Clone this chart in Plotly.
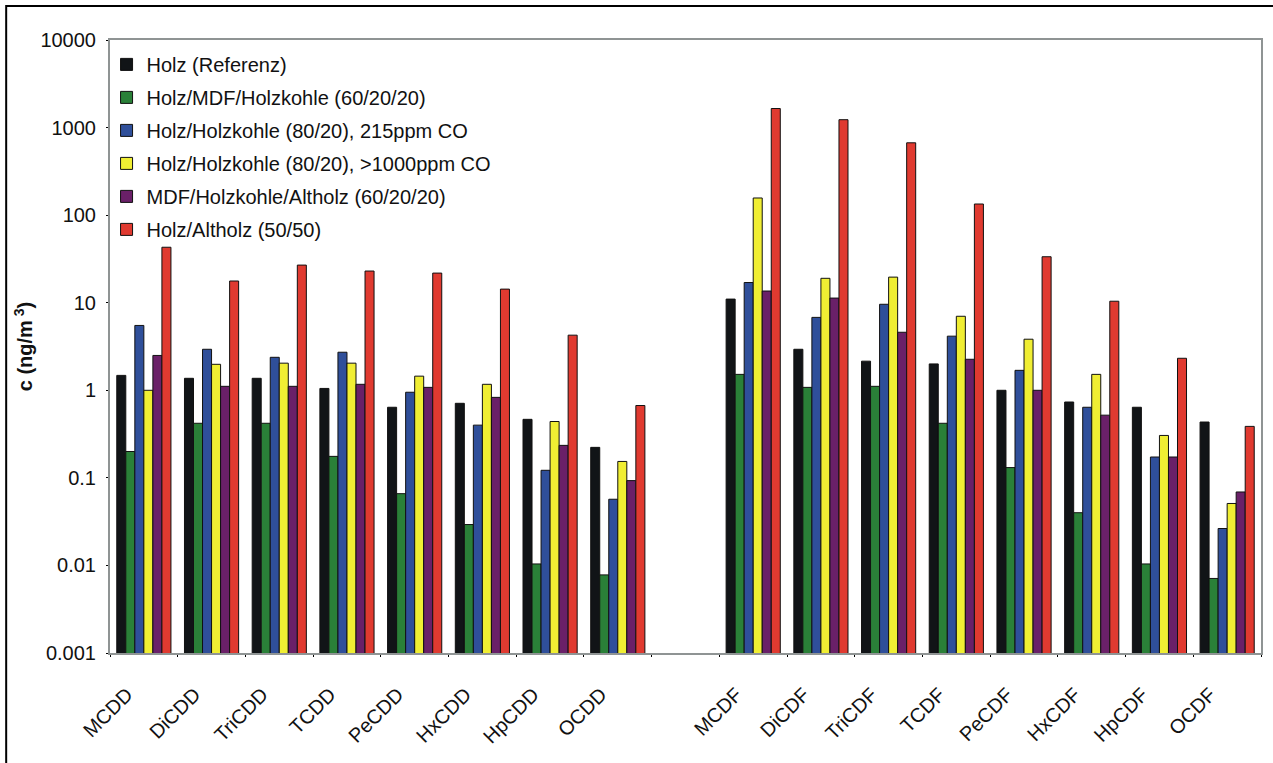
import plotly.graph_objects as go

# categories (blank slot separates the dioxins from the furans)
categories = ["MCDD", "DiCDD", "TriCDD", "TCDD", "PeCDD", "HxCDD", "HpCDD", "OCDD", " ",
              "MCDF", "DiCDF", "TriCDF", "TCDF", "PeCDF", "HxCDF", "HpCDF", "OCDF"]

holz_ref = [1.48, 1.37, 1.37, 1.05, 0.64, 0.71, 0.466, 0.223, None,
            11.0, 2.94, 2.15, 2.0, 1.0, 0.735, 0.64, 0.434]
holz_mdf_hk = [0.2, 0.42, 0.42, 0.176, 0.066, 0.0293, 0.0104, 0.0078, None,
               1.52, 1.08, 1.11, 0.42, 0.131, 0.040, 0.0104, 0.0071]
holz_hk_215 = [5.5, 2.94, 2.38, 2.72, 0.95, 0.40, 0.122, 0.057, None,
               17.0, 6.8, 9.6, 4.15, 1.69, 0.64, 0.173, 0.0264]
holz_hk_1000 = [1.0, 1.98, 2.04, 2.04, 1.45, 1.17, 0.44, 0.154, None,
                157, 19.0, 19.6, 7.0, 3.83, 1.52, 0.305, 0.051]
mdf_hk_alt = [2.5, 1.11, 1.11, 1.17, 1.08, 0.83, 0.235, 0.093, None,
              13.6, 11.3, 4.6, 2.26, 1.0, 0.52, 0.173, 0.069]
holz_alt = [43, 17.7, 26.9, 23.0, 21.8, 14.3, 4.26, 0.67, None,
            1650, 1230, 670, 134, 33.5, 10.4, 2.32, 0.387]

series = [
    ("Holz (Referenz)", holz_ref, "#111417"),
    ("Holz/MDF/Holzkohle (60/20/20)", holz_mdf_hk, "#2a8038"),
    ("Holz/Holzkohle (80/20), 215ppm CO", holz_hk_215, "#2f4f9a"),
    ("Holz/Holzkohle (80/20), >1000ppm CO", holz_hk_1000, "#f0ee33"),
    ("MDF/Holzkohle/Altholz (60/20/20)", mdf_hk_alt, "#6a2068"),
    ("Holz/Altholz (50/50)", holz_alt, "#e03a30"),
]

ytick_vals = [0.001, 0.01, 0.1, 1, 10, 100, 1000, 10000]
ytick_text = ["0.001", "0.01", "0.1", "1", "10", "100", "1000", "10000"]

font = "Liberation Sans, Arial, sans-serif"

fig = go.Figure()
for i, (name, vals, col) in enumerate(series):
    fig.add_trace(go.Bar(x=categories, y=vals, name=name, legendgroup=str(i),
                         marker=dict(color=col, line=dict(color="#111111", width=1))))

# outer frame of the whole chart
L, T, W, H = 110, 40, 1153, 613
fig.add_shape(type="rect", xref="paper", yref="paper",
              x0=(6 - L) / W, x1=(1290 - L) / W,
              y0=-(790 - T - H) / H, y1=(T + H - 6) / H,
              line=dict(color="black", width=2))

fig.update_layout(
    width=1273, height=763,
    margin=dict(l=L, r=1273 - L - W, t=T, b=763 - T - H),
    paper_bgcolor="white", plot_bgcolor="white",
    font=dict(family=font, size=20, color="#111111"),
    barmode="group", bargap=0.2, bargroupgap=0,
    showlegend=True,
    legend=dict(x=-0.003, y=0.992, xanchor="left", yanchor="top",
                bgcolor="rgba(255,255,255,0)", font=dict(size=20),
                tracegroupgap=4, traceorder="grouped"),
    xaxis=dict(type="category", tickangle=-45, tickson="boundaries",
               ticks="outside", ticklen=2, tickcolor="black",
               ticklabelshift=-17, ticklabelstandoff=20,
               showline=True, linecolor="#8f9494", linewidth=2, mirror=True,
               showgrid=False, tickfont=dict(size=20)),
    yaxis=dict(type="log", range=[-3, 4], tickvals=ytick_vals, ticktext=ytick_text,
               ticks="outside", ticklen=2, tickcolor="black", ticklabelstandoff=6,
               showline=True, linecolor="#8f9494", linewidth=2, mirror=True,
               showgrid=False, zeroline=False, tickfont=dict(size=20),
               title=dict(text="<b>c (ng/m<sup> 3</sup>)</b>", font=dict(size=20), standoff=2)),
)

fig.write_html("out.html", config={"displayModeBar": False},
               post_script="document.body.style.margin='0';")
